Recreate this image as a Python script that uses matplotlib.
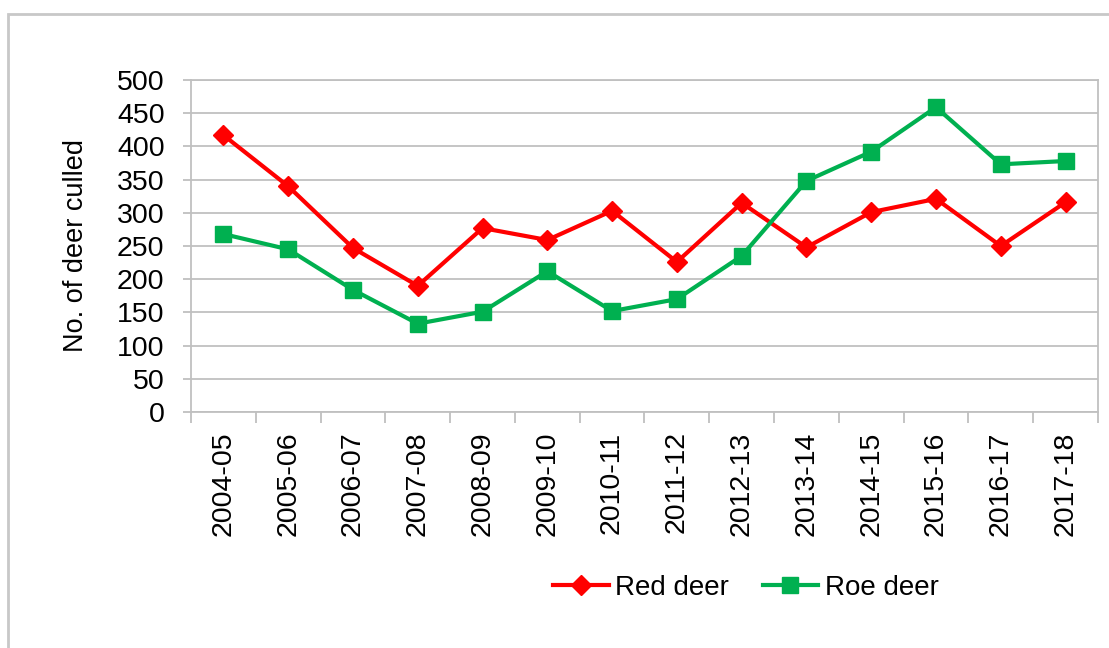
import numpy as np
import matplotlib.pyplot as plt
from matplotlib.patches import Rectangle

plt.rcParams['font.family'] = ['Liberation Sans', 'DejaVu Sans']

seasons = ["2004-05", "2005-06", "2006-07", "2007-08", "2008-09", "2009-10", "2010-11",
           "2011-12", "2012-13", "2013-14", "2014-15", "2015-16", "2016-17", "2017-18"]
red_deer = [417, 340, 247, 190, 277, 259, 303, 226, 315, 248, 301, 321, 250, 316]
roe_deer = [268, 245, 184, 133, 151, 212, 152, 170, 235, 348, 392, 459, 373, 378]

fig = plt.figure(figsize=(11.09, 6.48), dpi=100)
ax = fig.add_axes([191 / 1109, 1 - 412 / 648, (1098 - 191) / 1109, 332 / 648])

# outer chart frame
fig.patches.append(Rectangle((8 / 1109, -0.1), 1.2, 1 - 14 / 648 + 0.1,
                             transform=fig.transFigure, fill=False,
                             edgecolor="#c8c8c8", linewidth=2))

x = np.arange(len(seasons))
ax.plot(x, red_deer, color="#ff0000", linewidth=3, marker="D", markersize=10,
        label="Red deer", zorder=3)
ax.plot(x, roe_deer, color="#00b050", linewidth=3, marker="s", markersize=12,
        label="Roe deer", zorder=3)

ax.set_xlim(-0.5, len(seasons) - 0.5)
ax.set_ylim(0, 500)
ax.set_yticks(range(0, 501, 50))
ax.yaxis.grid(True, color="#c0c0c0", linewidth=1.3)
ax.set_axisbelow(True)

ax.set_xticks(np.arange(-0.5, len(seasons), 1))
ax.set_xticklabels([])
ax.set_xticks(x, minor=True)
ax.set_xticklabels(seasons, minor=True, rotation=90, fontsize=20.5)
ax.tick_params(axis="x", which="major", length=8, color="#bfbfbf", width=1.3)
ax.tick_params(axis="x", which="minor", length=0, pad=14)
ax.tick_params(axis="y", length=6, color="#bfbfbf", width=1.3, labelsize=20.5, pad=13)

for side in ["left", "right", "top", "bottom"]:
    ax.spines[side].set_color("#c0c0c0")
    ax.spines[side].set_linewidth(1.3)

ax.set_ylabel("No. of deer culled", fontsize=19.5, labelpad=20)

leg = fig.legend(loc="center", bbox_to_anchor=(746 / 1109, 1 - 588 / 648), ncol=2,
                 frameon=False, fontsize=20, handlelength=2.0, columnspacing=1.2,
                 handletextpad=0.25)

fig.savefig("out.png", dpi=100)
